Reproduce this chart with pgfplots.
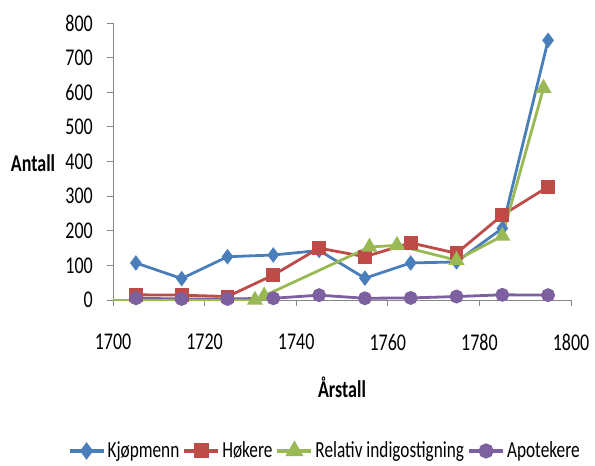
\documentclass[border=0pt]{standalone}
\usepackage{fontspec}
\setmainfont{Carlito}[FakeStretch=0.75]
\usepackage{pgfplots}
\pgfplotsset{compat=1.18}
\definecolor{cblue}{HTML}{4A7EBB}
\definecolor{cred}{HTML}{BE4B48}
\definecolor{cgreen}{HTML}{98B954}
\definecolor{cpurple}{HTML}{7D60A0}
\definecolor{cgray}{HTML}{868686}
\begin{document}
\fontsize{24pt}{28pt}\selectfont
\begin{tikzpicture}
\useasboundingbox (0,0) rectangle (595pt,466pt);
\begin{axis}[
  at={(113pt,166pt)}, anchor=origin,
  scale only axis, width=458pt, height=277pt,
  xmin=1700, xmax=1800, ymin=0, ymax=800,
  axis lines=left, axis line style={-, cgray, line width=0.8pt},
  xtick={1700,1720,...,1800}, ytick={0,100,...,800},
  tick align=outside, major tick length=6pt,
  tick style={cgray, line width=0.8pt},
  /pgf/number format/assume math mode=true,
  /pgf/number format/1000 sep={},
  ticklabel style={font=\fontsize{24pt}{28pt}\selectfont},
  xticklabel style={yshift=-20pt},
  yticklabel style={xshift=-6pt},
  clip=false,
  xlabel={\bfseries Årstall}, xlabel style={at={(axis description cs:0.5,0)}, anchor=center, yshift=-87pt, xshift=0pt},
  ylabel={\bfseries Antall}, ylabel style={rotate=-90, at={(axis description cs:0,0)}, anchor=center, xshift=-80pt, yshift=137pt},
  legend style={at={(axis description cs:0.462,-0.545)}, anchor=center, draw=none, fill=none,
    legend columns=-1, font=\fontsize{23pt}{27pt}\selectfont, inner sep=0pt,
    /tikz/every odd column/.append style={column sep=0pt},
    /tikz/every even column/.append style={column sep=1pt}},
  legend image code/.code={\draw[#1, line width=4pt, mark repeat=2, mark phase=2] plot coordinates {(0pt,0pt) (17pt,0pt) (34pt,0pt)};},
]
\addplot[cblue, line width=2.8pt, mark=diamond*, mark size=5.5pt, mark options={solid}] coordinates {
 (1705,107) (1715,62) (1725,125) (1735,130) (1745,143) (1755,63) (1765,107) (1775,110) (1785,207) (1795,750)};
\addlegendentry{Kjøpmenn}
\addplot[cred, line width=2.8pt, mark=square*, mark size=5.5pt] coordinates {
 (1705,15) (1715,14) (1725,10) (1735,72) (1745,150) (1755,125) (1765,165) (1775,135) (1785,245) (1795,327)};
\addlegendentry{Høkere}
\addplot[cgreen, line width=2.8pt, mark=triangle*, mark size=6.5pt] coordinates {
 (1731,0) (1733,12) (1756,153) (1762,158) (1775,115) (1785,185) (1794,612)};
\addlegendentry{Relativ indigostigning}
\addplot[cpurple, line width=2.8pt, mark=*, mark size=5.5pt] coordinates {
 (1705,5) (1715,3) (1725,3) (1735,5) (1745,14) (1755,5) (1765,6) (1775,10) (1785,15) (1795,14)};
\addlegendentry{Apotekere}
\addplot[cgreen, line width=2.8pt, forget plot] coordinates {(1700,0) (1731,0)};
\end{axis}
\end{tikzpicture}
\end{document}
